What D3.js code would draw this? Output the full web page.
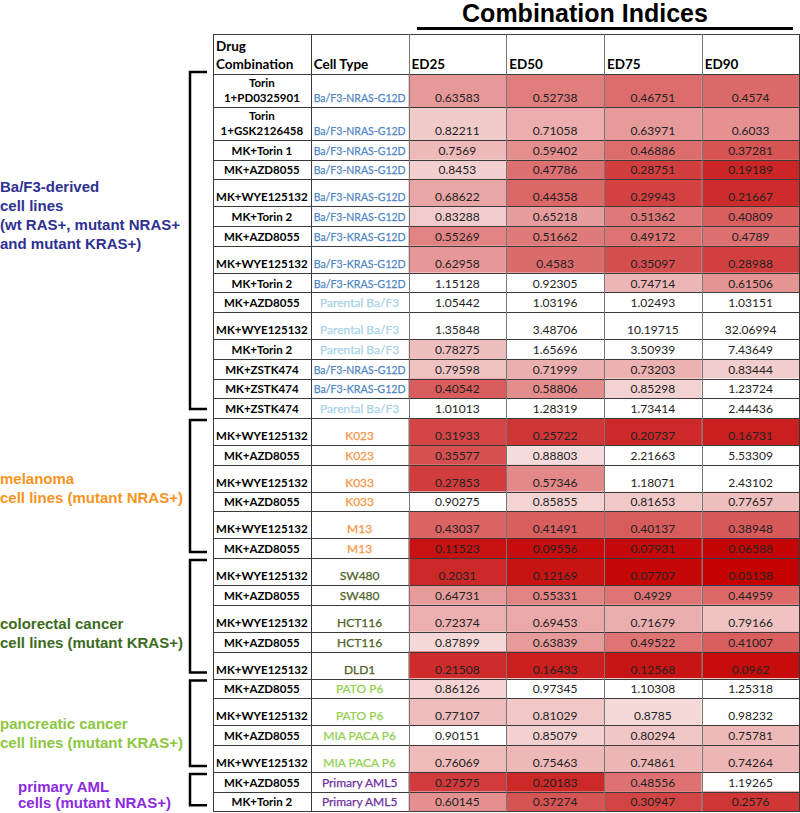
<!DOCTYPE html>
<html><head><meta charset="utf-8">
<script src="https://cdn.jsdelivr.net/npm/d3@7"></script>
<style>
html,body{margin:0;padding:0;background:#fff;}
svg{display:block;}
</style></head>
<body>
<svg id="chart" width="800" height="813"></svg>
<script>
// ---------------- DATA ----------------
const title = "Combination Indices";
const headers = ["Drug Combination", "Cell Type", "ED25", "ED50", "ED75", "ED90"];
const drugs = [
  "Torin 1+PD0325901","Torin 1+GSK2126458","MK+Torin 1","MK+AZD8055","MK+WYE125132","MK+Torin 2",
  "MK+AZD8055","MK+WYE125132","MK+Torin 2","MK+AZD8055","MK+WYE125132","MK+Torin 2",
  "MK+ZSTK474","MK+ZSTK474","MK+ZSTK474",
  "MK+WYE125132","MK+AZD8055","MK+WYE125132","MK+AZD8055","MK+WYE125132","MK+AZD8055",
  "MK+WYE125132","MK+AZD8055","MK+WYE125132","MK+AZD8055","MK+WYE125132",
  "MK+AZD8055","MK+WYE125132","MK+AZD8055","MK+WYE125132",
  "MK+AZD8055","MK+Torin 2"
];
const cellTypes = [
  "Ba/F3-NRAS-G12D","Ba/F3-NRAS-G12D","Ba/F3-NRAS-G12D","Ba/F3-NRAS-G12D","Ba/F3-NRAS-G12D","Ba/F3-NRAS-G12D",
  "Ba/F3-KRAS-G12D","Ba/F3-KRAS-G12D","Ba/F3-KRAS-G12D","Parental Ba/F3","Parental Ba/F3","Parental Ba/F3",
  "Ba/F3-NRAS-G12D","Ba/F3-KRAS-G12D","Parental Ba/F3",
  "K023","K023","K033","K033","M13","M13",
  "SW480","SW480","HCT116","HCT116","DLD1",
  "PATO P6","PATO P6","MIA PACA P6","MIA PACA P6",
  "Primary AML5","Primary AML5"
];
const ED25 = ["0.63583","0.82211","0.7569","0.8453","0.68622","0.83288","0.55269","0.62958","1.15128","1.05442","1.35848","0.78275","0.79598","0.40542","1.01013",
  "0.31933","0.35577","0.27853","0.90275","0.43037","0.11523","0.2031","0.64731","0.72374","0.87899","0.21508","0.86126","0.77107","0.90151","0.76069","0.27575","0.60145"];
const ED50 = ["0.52738","0.71058","0.59402","0.47786","0.44358","0.65218","0.51662","0.4583","0.92305","1.03196","3.48706","1.65696","0.71999","0.58806","1.28319",
  "0.25722","0.88803","0.57346","0.85855","0.41491","0.09556","0.12169","0.55331","0.69453","0.63839","0.16433","0.97345","0.81029","0.85079","0.75463","0.20183","0.37274"];
const ED75 = ["0.46751","0.63971","0.46886","0.28751","0.29943","0.51362","0.49172","0.35097","0.74714","1.02493","10.19715","3.50939","0.73203","0.85298","1.73414",
  "0.20737","2.21663","1.18071","0.81653","0.40137","0.07931","0.07707","0.4929","0.71679","0.49522","0.12568","1.10308","0.8785","0.80294","0.74861","0.48556","0.30947"];
const ED90 = ["0.4574","0.6033","0.37281","0.19189","0.21667","0.40809","0.4789","0.28988","0.61506","1.03151","32.06994","7.43649","0.83444","1.23724","2.44436",
  "0.16731","5.53309","2.43102","0.77657","0.38948","0.06588","0.05138","0.44959","0.79166","0.41007","0.0962","1.25318","0.98232","0.75781","0.74264","1.19265","0.2576"];
const groupNames = [
  ["Ba/F3-derived","cell lines","(wt RAS+, mutant NRAS+","and mutant KRAS+)"],
  ["melanoma","cell lines (mutant NRAS+)"],
  ["colorectal cancer","cell lines (mutant KRAS+)"],
  ["pancreatic cancer","cell lines (mutant KRAS+)"],
  ["primary AML","cells (mutant NRAS+)"]
];
const groupFirstRow = [0, 15, 21, 26, 30];
const groupLastRow  = [14, 20, 25, 29, 31];

// ---------------- STYLE / LAYOUT ----------------
const groupColors = ["#2e3192", "#f7941d", "#3d6b21", "#8dc63f", "#8a2be2"];
const groupLabelX = [0, 0, 0, 0, 18];
const groupLabelMid = [215, 488, 633, 733, 795];
const groupLineH = [19, 19, 19, 19, 16];
const cellTypeColor = t =>
  t.startsWith("Ba/F3") ? "#4f86c6" :
  t.startsWith("Parental") ? "#a9d2ea" :
  /^(K0|M13)/.test(t) ? "#f79646" :
  /^(SW|HCT|DLD)/.test(t) ? "#4f6228" :
  /^(PATO|MIA)/.test(t) ? "#92d050" : "#7030a0";
const tableFont = "Lato, 'Open Sans', sans-serif";
const arialFont = "'Liberation Sans', Arial, sans-serif";

const svg = d3.select("#chart");
const rows = drugs.map((d, i) => ({drug: d, cell: cellTypes[i], vals: [ED25[i], ED50[i], ED75[i], ED90[i]]}));

// columns
const x = d3.scaleBand().domain(headers).range([213, 799.5]);
// rows: heights from label rules
const headerTop = 34, headerBottom = 74;
const rowH = r => r.drug.length > 14 ? 33 : (r.drug.includes("WYE") ? 27 : 19.7);
let acc = headerBottom;
rows.forEach(r => { r.y0 = acc; acc += rowH(r); r.y1 = acc; });

const color = d3.scaleLinear().domain([0.05, 0.9]).range(["rgb(196,0,0)", "rgb(246,222,222)"]).clamp(true);
const fill = v => (+v >= 0.9 ? "#ffffff" : color(+v));

// cells
const valCols = headers.slice(2);
const g = svg.append("g");
rows.forEach(r => {
  valCols.forEach((c, j) => {
    g.append("rect").attr("x", x(c)).attr("y", r.y0).attr("width", x.bandwidth()).attr("height", r.y1 - r.y0)
      .attr("fill", fill(r.vals[j]));
  });
});

// grid lines
const grid = svg.append("g").attr("stroke", "#3a3a3a").attr("stroke-width", 1);
const lineYs = [headerTop, headerBottom].concat(rows.map(r => r.y1));
lineYs.forEach(yy => grid.append("line").attr("x1", 213).attr("x2", 799.5).attr("y1", Math.round(yy) + 0.5).attr("y2", Math.round(yy) + 0.5));
headers.forEach(h => grid.append("line").attr("x1", Math.round(x(h)) + 0.5).attr("x2", Math.round(x(h)) + 0.5).attr("y1", headerTop).attr("y2", rows[rows.length - 1].y1 + 0.5)
  .attr("stroke", x(h) > 400 ? "#777" : "#3a3a3a"));
grid.append("line").attr("x1", 799.5).attr("x2", 799.5).attr("y1", headerTop).attr("y2", rows[rows.length - 1].y1 + 0.5);

// header text
const ht = svg.append("g").attr("font-family", tableFont).attr("font-weight", "bold").attr("font-size", 13.5).attr("fill", "#000");
ht.append("text").attr("x", x(headers[0]) + 3).attr("y", 51).text("Drug");
ht.append("text").attr("x", x(headers[0]) + 3).attr("y", 69).text("Combination");
headers.slice(1).forEach(h => ht.append("text").attr("x", x(h) + 3).attr("y", 69).text(h));

// row text
const rt = svg.append("g").attr("font-family", tableFont).attr("text-anchor", "middle");
rows.forEach(r => {
  const cx = x(headers[0]) + x.bandwidth() / 2;
  if (r.drug.length > 14) {
    const k = r.drug.indexOf(" ");
    rt.append("text").attr("x", cx).attr("y", r.y1 - 20).attr("font-weight", "bold").attr("font-size", 11.5).text(r.drug.slice(0, k));
    rt.append("text").attr("x", cx).attr("y", r.y1 - 5).attr("font-weight", "bold").attr("font-size", 11.5).text(r.drug.slice(k + 1));
  } else {
    rt.append("text").attr("x", cx).attr("y", r.y1 - 5).attr("font-weight", "bold").attr("font-size", 11.5).text(r.drug);
  }
  const ct = rt.append("text").attr("x", x(headers[1]) + x.bandwidth() / 2).attr("y", r.y1 - 5)
    .attr("font-size", 12).attr("fill", cellTypeColor(r.cell))
    .attr("stroke", cellTypeColor(r.cell)).attr("stroke-width", 0.25).text(r.cell);
  const w = ct.node().getComputedTextLength();
  if (w > 92) ct.attr("textLength", 92).attr("lengthAdjust", "spacingAndGlyphs");
  valCols.forEach((c, j) => {
    rt.append("text").attr("x", x(c) + x.bandwidth() / 2).attr("y", r.y1 - 5).attr("font-size", 12).attr("fill", "#222").text(r.vals[j]);
  });
});

// title
svg.append("text").attr("x", 585).attr("y", 22).attr("text-anchor", "middle").attr("font-family", arialFont)
  .attr("font-weight", "bold").attr("font-size", 25).text(title);
svg.append("line").attr("x1", 417).attr("x2", 793).attr("y1", 28.5).attr("y2", 28.5).attr("stroke", "#000").attr("stroke-width", 3);

// brackets and group labels
const bx = 190, bt = 207;
groupNames.forEach((lines, i) => {
  const top = rows[groupFirstRow[i]].y0 + (i === 0 ? -2 : 2);
  const bot = rows[groupLastRow[i]].y1 - (i === 0 ? 9 : 6);
  svg.append("path").attr("d", `M${bt},${top}H${bx}V${bot}H${bt}`).attr("fill", "none").attr("stroke", "#000").attr("stroke-width", 2.5);
  const mid = groupLabelMid[i];
  const lh = groupLineH[i];
  const t = svg.append("text").attr("font-family", arialFont).attr("font-weight", "bold").attr("font-size", 15)
    .attr("fill", groupColors[i]);
  lines.forEach((ln, k) => {
    t.append("tspan").attr("x", groupLabelX[i]).attr("y", mid + (k - (lines.length - 1) / 2) * lh + 5).text(ln);
  });
});
</script>
</body></html>
